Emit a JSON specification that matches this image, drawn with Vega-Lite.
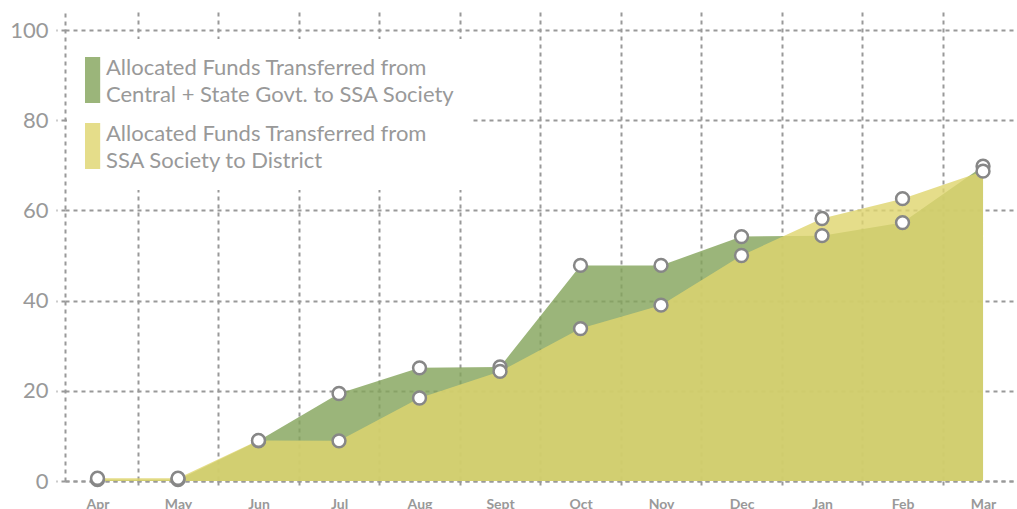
{
  "$schema": "https://vega.github.io/schema/vega-lite/v6.json",
  "width": 952,
  "height": 469,
  "autosize": {"type": "none"},
  "padding": {"left": 65, "top": 12, "right": 0, "bottom": 28},
  "background": "white",
  "config": {
    "view": {"stroke": null},
    "font": "Lato",
    "axis": {
      "zindex": 1,
      "title": null,
      "gridColor": "#999999", "gridDash": [4, 4], "gridWidth": 2, "gridOpacity": 1,
      "domainColor": "#999999", "domainDash": [4, 4], "domainWidth": 2,
      "tickColor": "#999999", "tickDash": [4, 4], "tickWidth": 2,
      "labelColor": "#999999"
    },
    "legend": {
      "zindex": 2,
      "orient": "none",
      "legendX": 2,
      "legendY": 27,
      "fillColor": "white",
      "padding": 18,
      "symbolType": "M-1,-1H-0.34V1H-1Z",
      "symbolSize": 2116,
      "symbolStrokeWidth": 0,
      "labelFont": "Lato",
      "labelFontSize": 22,
      "labelColor": "#999999",
      "labelOffset": -25,
      "labelLimit": 0,
      "labelBaseline": "bottom",
      "rowPadding": 17
    },
    "style": {"guide-label": {"lineHeight": 27}}
  },
  "data": {
    "values": [
      {"month": "Apr", "idx": 0, "series": "Allocated Funds Transferred from Central + State Govt. to SSA Society", "value": 0.3},
      {"month": "May", "idx": 1, "series": "Allocated Funds Transferred from Central + State Govt. to SSA Society", "value": 0.3},
      {"month": "Jun", "idx": 2, "series": "Allocated Funds Transferred from Central + State Govt. to SSA Society", "value": 8.9},
      {"month": "Jul", "idx": 3, "series": "Allocated Funds Transferred from Central + State Govt. to SSA Society", "value": 19.4},
      {"month": "Aug", "idx": 4, "series": "Allocated Funds Transferred from Central + State Govt. to SSA Society", "value": 25.1},
      {"month": "Sept", "idx": 5, "series": "Allocated Funds Transferred from Central + State Govt. to SSA Society", "value": 25.3},
      {"month": "Oct", "idx": 6, "series": "Allocated Funds Transferred from Central + State Govt. to SSA Society", "value": 47.8},
      {"month": "Nov", "idx": 7, "series": "Allocated Funds Transferred from Central + State Govt. to SSA Society", "value": 47.8},
      {"month": "Dec", "idx": 8, "series": "Allocated Funds Transferred from Central + State Govt. to SSA Society", "value": 54.2},
      {"month": "Jan", "idx": 9, "series": "Allocated Funds Transferred from Central + State Govt. to SSA Society", "value": 54.4},
      {"month": "Feb", "idx": 10, "series": "Allocated Funds Transferred from Central + State Govt. to SSA Society", "value": 57.3},
      {"month": "Mar", "idx": 11, "series": "Allocated Funds Transferred from Central + State Govt. to SSA Society", "value": 69.8},
      {"month": "Apr", "idx": 0, "series": "Allocated Funds Transferred from SSA Society to District", "value": 0.6},
      {"month": "May", "idx": 1, "series": "Allocated Funds Transferred from SSA Society to District", "value": 0.6},
      {"month": "Jun", "idx": 2, "series": "Allocated Funds Transferred from SSA Society to District", "value": 9.0},
      {"month": "Jul", "idx": 3, "series": "Allocated Funds Transferred from SSA Society to District", "value": 8.9},
      {"month": "Aug", "idx": 4, "series": "Allocated Funds Transferred from SSA Society to District", "value": 18.4},
      {"month": "Sept", "idx": 5, "series": "Allocated Funds Transferred from SSA Society to District", "value": 24.3},
      {"month": "Oct", "idx": 6, "series": "Allocated Funds Transferred from SSA Society to District", "value": 33.8},
      {"month": "Nov", "idx": 7, "series": "Allocated Funds Transferred from SSA Society to District", "value": 39.0},
      {"month": "Dec", "idx": 8, "series": "Allocated Funds Transferred from SSA Society to District", "value": 50.0},
      {"month": "Jan", "idx": 9, "series": "Allocated Funds Transferred from SSA Society to District", "value": 58.2},
      {"month": "Feb", "idx": 10, "series": "Allocated Funds Transferred from SSA Society to District", "value": 62.6},
      {"month": "Mar", "idx": 11, "series": "Allocated Funds Transferred from SSA Society to District", "value": 68.7}
    ]
  },
  "resolve": {"axis": {"x": "independent"}},
  "layer": [
    {
      "transform": [{"filter": "datum.series == 'Allocated Funds Transferred from Central + State Govt. to SSA Society'"}],
      "mark": {"type": "area", "opacity": 0.81},
      "encoding": {
        "x": {
          "field": "idx", "type": "quantitative",
          "scale": {"domain": [-0.4037, 11.422], "nice": false, "zero": false},
          "axis": {"orient": "bottom", "values": [0.5, 1.5, 2.5, 3.5, 4.5, 5.5, 6.5, 7.5, 8.5, 9.5, 10.5], "labels": false, "grid": true, "ticks": true, "tickSize": 6}
        },
        "y": {
          "field": "value", "type": "quantitative", "stack": null,
          "scale": {"domain": [0, 104], "nice": false},
          "axis": {"values": [0, 20, 40, 60, 80, 100], "grid": true, "tickSize": 9, "labelPadding": 8, "labelFontSize": 22, "labelFont": "Lato"}
        },
        "color": {
          "field": "series", "type": "nominal",
          "scale": {
            "domain": ["Allocated Funds Transferred from Central + State Govt. to SSA Society", "Allocated Funds Transferred from SSA Society to District"],
            "range": ["#84a45b", "#dfd56f"]
          },
          "legend": {
            "title": null,
            "labelExpr": "['\u2005' + slice(datum.label, 0, 32), slice(datum.label, 33)]"
          }
        }
      }
    },
    {
      "transform": [{"filter": "datum.series == 'Allocated Funds Transferred from SSA Society to District'"}],
      "mark": {"type": "area", "opacity": 0.81},
      "encoding": {
        "x": {"field": "idx", "type": "quantitative", "axis": null},
        "y": {"field": "value", "type": "quantitative", "stack": null},
        "color": {"field": "series", "type": "nominal"}
      }
    },
    {
      "mark": {"type": "point", "filled": true, "fill": "white", "stroke": "#878787", "strokeWidth": 2.5, "size": 165, "opacity": 1},
      "encoding": {
        "x": {
          "field": "idx", "type": "quantitative",
          "axis": {
            "orient": "bottom",
            "values": [0, 1, 2, 3, 4, 5, 6, 7, 8, 9, 10, 11],
            "labelExpr": "['Apr','May','Jun','Jul','Aug','Sept','Oct','Nov','Dec','Jan','Feb','Mar'][datum.value]",
            "ticks": false, "tickSize": 0, "domain": false, "grid": false,
            "labelPadding": 16, "labelFontWeight": "bold", "labelFontSize": 14,
            "labelFlush": false, "labelOverlap": false
          }
        },
        "y": {"field": "value", "type": "quantitative"}
      }
    }
  ]
}
